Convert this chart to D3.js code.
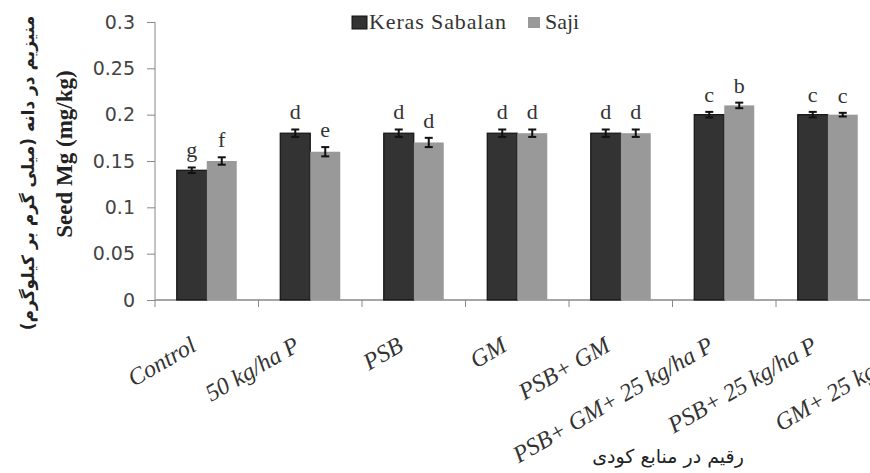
<!DOCTYPE html>
<html>
<head>
<meta charset="utf-8">
<script src="https://cdnjs.cloudflare.com/ajax/libs/d3/7.8.5/d3.min.js"></script>
<style>
  body { margin: 0; background: #fff; }
  svg { display: block; }
</style>
</head>
<body>
<svg id="chart" width="870" height="473"></svg>
<script>
// data
var categories = ["Control", "50 kg/ha P", "PSB", "GM", "PSB+ GM",
                  "PSB+ GM+ 25 kg/ha P", "PSB+ 25 kg/ha P", "GM+ 25 kg/ha P"];
var series = ["Keras Sabalan", "Saji"];
var kerasValues = [0.14, 0.18, 0.18, 0.18, 0.18, 0.20, 0.20];
var sajiValues  = [0.15, 0.16, 0.17, 0.18, 0.18, 0.21, 0.20];
var kerasErr = [0.003, 0.004, 0.004, 0.004, 0.004, 0.003, 0.003];
var sajiErr  = [0.004, 0.005, 0.005, 0.004, 0.004, 0.003, 0.002];
var kerasLetters = ["g", "d", "d", "d", "d", "c", "c"];
var sajiLetters  = ["f", "e", "d", "d", "d", "b", "c"];
var yTicks = [0, 0.05, 0.1, 0.15, 0.2, 0.25, 0.3];

var svg = d3.select("#chart");
var marginLeft = 155, axisBottom = 300, axisTop = 22, band = 103.5;
var colors = ["#333333", "#999999"];
var SERIF = "Liberation Serif";

var x = d3.scaleBand().domain(categories)
    .range([marginLeft, marginLeft + band * categories.length]).padding(0);
var xs = d3.scaleBand().domain(series).range([-30, 30]).padding(0);
var y = d3.scaleLinear().domain([0, 0.3]).range([axisBottom, axisTop]);

// y axis
var yAxis = svg.append("g").attr("transform", "translate(" + marginLeft + ",0)")
    .call(d3.axisLeft(y).tickValues(yTicks).tickSize(8).tickPadding(12)
        .tickFormat(d3.format("~g")));
yAxis.select(".domain").attr("stroke", "#888").attr("d", "M0," + axisBottom + "V" + axisTop);
yAxis.selectAll(".tick line").attr("stroke", "#888");
yAxis.selectAll(".tick text").attr("font-family", "DejaVu Sans").attr("font-size", 19).attr("fill", "#444");

// x axis line and ticks at category boundaries
svg.append("line").attr("x1", marginLeft).attr("x2", 870)
    .attr("y1", axisBottom).attr("y2", axisBottom).attr("stroke", "#888").attr("stroke-width", 1.5);
svg.selectAll(".xtick").data(categories).enter().append("line")
    .attr("x1", function(d) { return x(d); }).attr("x2", function(d) { return x(d); })
    .attr("y1", axisBottom).attr("y2", axisBottom + 7).attr("stroke", "#888");

// build rows for bars
var rows = [];
kerasValues.forEach(function(v, i) {
  rows.push({cat: categories[i], s: series[0], v: v, e: kerasErr[i], l: kerasLetters[i], c: 0});
  rows.push({cat: categories[i], s: series[1], v: sajiValues[i], e: sajiErr[i], l: sajiLetters[i], c: 1});
});
function cx(d) { return x(d.cat) + x.bandwidth() / 2 + xs(d.s) + xs.bandwidth() / 2; }

svg.selectAll(".bar").data(rows).enter().append("rect")
    .attr("x", function(d) { return x(d.cat) + x.bandwidth() / 2 + xs(d.s); })
    .attr("y", function(d) { return y(d.v); })
    .attr("width", xs.bandwidth())
    .attr("height", function(d) { return axisBottom - y(d.v); })
    .attr("fill", function(d) { return colors[d.c]; })
    .attr("stroke", function(d) { return d.c == 0 ? "#111" : "none"; })
    .attr("stroke-width", 1.2);

// error bars
var eb = svg.selectAll(".err").data(rows).enter().append("g").attr("stroke", "#111").attr("stroke-width", 2);
eb.append("line").attr("x1", cx).attr("x2", cx)
    .attr("y1", function(d) { return y(d.v + d.e); }).attr("y2", function(d) { return y(d.v - d.e); });
eb.append("line").attr("x1", function(d) { return cx(d) - 4; }).attr("x2", function(d) { return cx(d) + 4; })
    .attr("y1", function(d) { return y(d.v + d.e); }).attr("y2", function(d) { return y(d.v + d.e); });
eb.append("line").attr("x1", function(d) { return cx(d) - 4; }).attr("x2", function(d) { return cx(d) + 4; })
    .attr("y1", function(d) { return y(d.v - d.e); }).attr("y2", function(d) { return y(d.v - d.e); });

// significance letters
svg.selectAll(".letter").data(rows).enter().append("text")
    .attr("x", cx).attr("y", function(d) { return y(d.v + d.e) - 10; })
    .attr("text-anchor", "middle").attr("font-family", SERIF)
    .attr("font-size", 22).attr("fill", "#333").text(function(d) { return d.l; });

// x labels, rotated
svg.selectAll(".xlab").data(categories).enter().append("text")
    .attr("transform", function(d) { return "translate(" + (x(d) + band / 2 - 9) + ",350) rotate(-30)"; })
    .attr("text-anchor", "end")
    .attr("font-family", SERIF).attr("font-style", "italic")
    .attr("font-size", 24).attr("fill", "#333").text(function(d) { return d; });

// legend
var leg = svg.append("g").attr("font-family", SERIF).attr("font-size", 22).attr("fill", "#333");
leg.append("rect").attr("x", 352).attr("y", 16).attr("width", 15).attr("height", 13)
    .attr("fill", colors[0]).attr("stroke", "#111");
leg.append("text").attr("x", 369).attr("y", 29)
    .attr("textLength", 137).attr("lengthAdjust", "spacing").text(series[0]);
leg.append("rect").attr("x", 528).attr("y", 17).attr("width", 12).attr("height", 11).attr("fill", colors[1]);
leg.append("text").attr("x", 545).attr("y", 29).text(series[1]);

// axis titles
svg.append("text").attr("transform", "translate(72,154) rotate(-90)")
    .attr("text-anchor", "middle").attr("font-family", SERIF).attr("font-weight", "bold")
    .attr("font-size", 23).attr("fill", "#222").text("Seed Mg (mg/kg)");
svg.append("text").attr("transform", "translate(34,173) rotate(-90)")
    .attr("text-anchor", "middle").attr("font-family", "DejaVu Sans").attr("font-weight", "bold")
    .attr("font-size", 17).attr("fill", "#222").attr("direction", "rtl")
    .text("منیزیم در دانه (میلی گرم بر کیلوگرم)");
svg.append("text").attr("x", 668).attr("y", 463)
    .attr("text-anchor", "middle").attr("font-family", "DejaVu Sans")
    .attr("font-size", 19).attr("fill", "#222").attr("direction", "rtl")
    .text("رقیم در منابع کودی");
</script>
</body>
</html>
